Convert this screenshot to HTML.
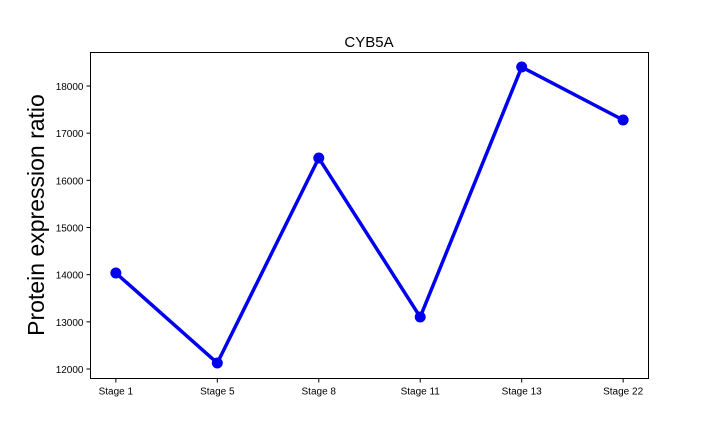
<!DOCTYPE html>
<html><head><meta charset="utf-8"><style>body{margin:0;background:#fff}svg{display:block;font-family:"Liberation Sans","DejaVu Sans",sans-serif}</style></head>
<body>
<svg id="chart" width="720" height="432" viewBox="0 0 720 432" xmlns="http://www.w3.org/2000/svg">
<rect width="720" height="432" fill="#fff"/>
<text x="369" y="47" text-anchor="middle" font-size="15">CYB5A</text>
<text transform="translate(44,215) rotate(-90)" text-anchor="middle" font-size="23">Protein expression ratio</text>
<g id="axes"></g>
<g id="series"></g>
<rect x="90.5" y="52.5" width="558" height="326" fill="none" stroke="#000" stroke-width="1"/>
</svg>
<script>
const categories = ["Stage 1","Stage 5","Stage 8","Stage 11","Stage 13","Stage 22"];
const values = [14035, 12127, 16473, 13102, 18402, 17279];
const yTicks = [12000, 13000, 14000, 15000, 16000, 17000, 18000];

const NS = "http://www.w3.org/2000/svg";
const L = 90.5, R = 648.5, T = 52.5, B = 378.5;
function xScale(i){ return L + (i + 0.25) / (categories.length - 0.5) * (R - L); }
function yScale(v){ return 369 + (v - 12000) * (86 - 369) / 6000; }
function mk(tag, attrs, parent){ const e = document.createElementNS(NS, tag); for (const k in attrs) e.setAttribute(k, attrs[k]); parent.appendChild(e); return e; }

const axes = document.getElementById('axes');
yTicks.forEach(v => {
  const y = yScale(v);
  const t = mk('line', {x1: L - 4, x2: L, y1: y, y2: y, stroke: '#000'}, axes);
  
  
  const lb = mk('text', {x: L - 7, y: y + 4, 'text-anchor': 'end', 'font-size': 10}, axes);
  
  
  lb.textContent = v;
});
categories.forEach((c, i) => {
  const x = xScale(i);
  const t = mk('line', {x1: x, x2: x, y1: B, y2: B + 4, stroke: '#000'}, axes);
  
  
  const lb = mk('text', {x: x, y: B + 16, 'text-anchor': 'middle', 'font-size': 10}, axes);
  
  
  lb.textContent = c;
});

const series = document.getElementById('series');
const pts = values.map((v, i) => xScale(i) + ',' + yScale(v)).join(' ');
const line = mk('polyline', {points: pts, fill: 'none', stroke: '#0000ee', 'stroke-width': 3.5, 'stroke-linejoin': 'round'}, series);


values.forEach((v, i) => {
  const c = mk('circle', {cx: xScale(i), cy: yScale(v), r: 5.5, fill: '#0000ee'}, series);
  
  
});
</script>
</body></html>
